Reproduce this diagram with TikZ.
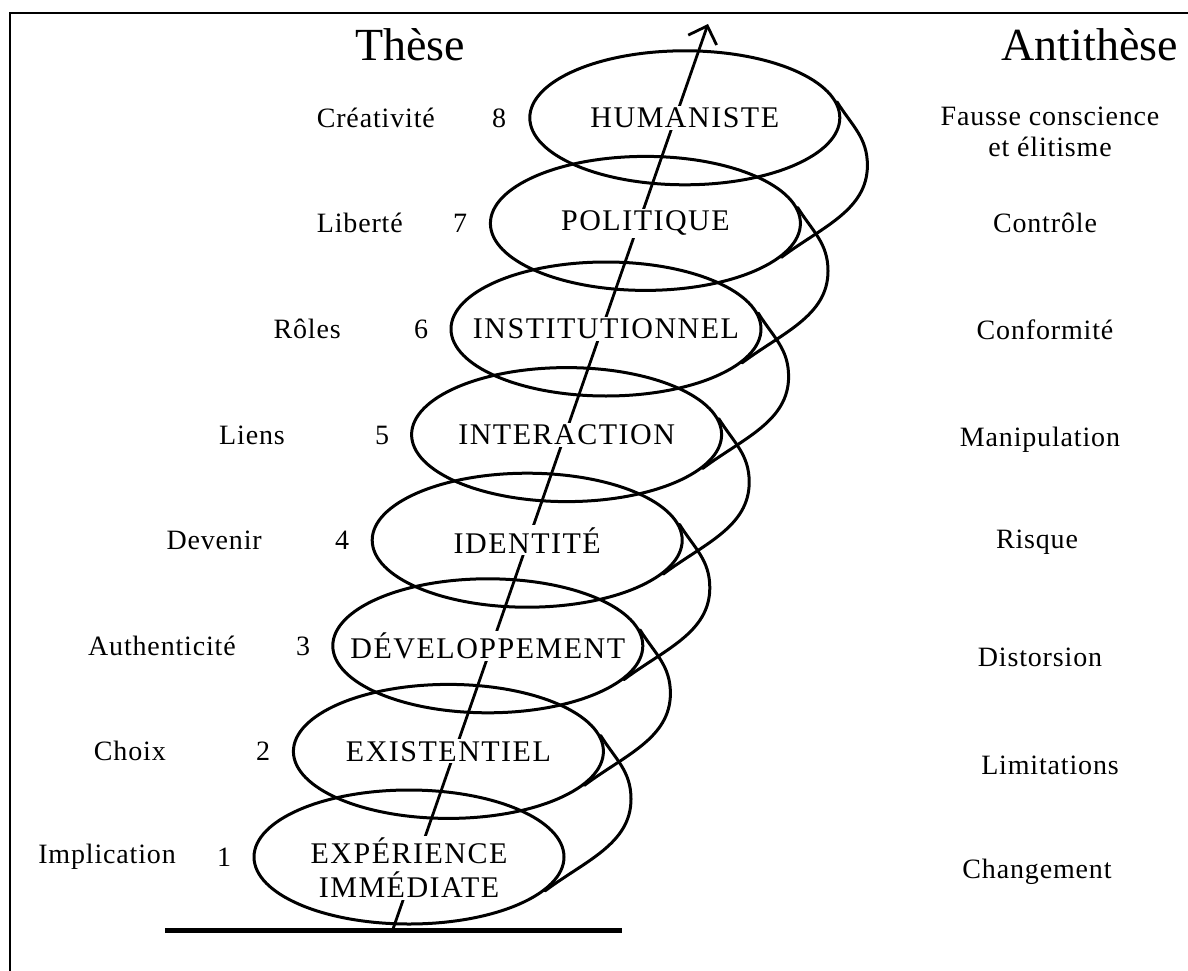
\documentclass[tikz,border=0pt]{standalone}
\usepackage{fontspec}
\setmainfont{Liberation Serif}
\usetikzlibrary{arrows.meta,shapes.geometric,calc}
\begin{document}
\begin{tikzpicture}[x=1pt,y=-1pt,
  ell/.style={ellipse, draw, line width=3pt, minimum width=310pt, minimum height=134pt, inner sep=0pt},
  lab/.style={fill=white, inner sep=2pt, align=center, font=\fontsize{30}{34}\selectfont\addfontfeature{LetterSpace=5}},
  side/.style={inner sep=0pt, align=center, font=\fontsize{28}{31}\selectfont\addfontfeature{LetterSpace=3}},
  ttl/.style={inner sep=0pt, font=\fontsize{46}{48}\selectfont},
  curve/.style={line width=3pt, line cap=round},
]
\useasboundingbox (0,0) rectangle (1188,971);
% frame
\coordinate (fb) at (10,971);
\coordinate (ftl) at (10,13);
\coordinate (ftr) at (1188,13);
\draw[line width=2pt] (fb) -- (ftl) -- (ftr);
% base line
\coordinate (bl) at (165,930);
\coordinate (br) at (622,930);
\draw[line width=5pt] (bl) -- (br);
% arrow
\coordinate (foot) at (393,929);
\coordinate (tip) at (708,24);
\draw[line width=2.8pt, -{Straight Barb[length=15pt,width=30pt,line width=2.8pt]}] (foot) -- (tip);
% labels
\foreach \k/\x/\y/\t in {1/409/868/{EXPÉRIENCE\\IMMÉDIATE},
  2/448.4/751.4/EXISTENTIEL, 3/487.8/645.8/DÉVELOPPEMENT, 4/527.2/540.2/IDENTITÉ,
  5/566.6/434.6/INTERACTION, 6/606/329/INSTITUTIONNEL, 7/645.4/223.4/POLITIQUE,
  8/684.8/117.8/HUMANISTE}{
  \node[lab] (l\k) at (\x,\y) {\t};
}
% ellipses
\foreach \k/\x/\y in {1/409/857, 2/448.4/751.4, 3/487.8/645.8, 4/527.2/540.2,
  5/566.6/434.6, 6/606/329, 7/645.4/223.4, 8/684.8/117.8}{
  \node[ell] (e\k) at (\x,\y) {};
}
% tails: from lower right of one ellipse, round the back, to upper right of the next
\foreach \k [evaluate=\k as \n using int(\k+1)] in {1,...,7}{
  \coordinate (m\k) at ($(e\k.center)+(222,-58)$);
  \draw[curve] (e\k.-14) .. controls +(40,-30) and +(0,45) .. (m\k)
     .. controls +(0,-28) and +(15,24) .. (e\n.6.6);
}
% numbers
\foreach \k/\x/\y in {1/224/857, 2/263/751, 3/303/646, 4/342/540, 5/382/435, 6/421/329, 7/460/223, 8/499/118}{
  \node[side] (n\k) at (\x,\y) {\k};
}
% left words
\node[side, anchor=east] (t1) at (176,857) {Implication};
\node[side, anchor=east] (t2) at (166,751) {Choix};
\node[side, anchor=east] (t3) at (236,646) {Authenticité};
\node[side, anchor=east] (t4) at (262,540) {Devenir};
\node[side, anchor=east] (t5) at (285,435) {Liens};
\node[side, anchor=east] (t6) at (341,329) {Rôles};
\node[side, anchor=east] (t7) at (403,223) {Liberté};
\node[side, anchor=east] (t8) at (435,118) {Créativité};
% right words
\node[side] (a8) at (1050,132) {Fausse conscience\\et élitisme};
\node[side] (a7) at (1045,223) {Contrôle};
\node[side] (a6) at (1045,330) {Conformité};
\node[side] (a5) at (1040,440) {Manipulation};
\node[side] (a4) at (1037,542) {Risque};
\node[side] (a3) at (1040,657) {Distorsion};
\node[side] (a2) at (1050,765) {Limitations};
\node[side] (a1) at (1037,872) {Changement};
% titles
\node[ttl] (these) at (410,45) {Thèse};
\node[ttl, anchor=east] (anti) at (1178,45) {Antithèse};
\end{tikzpicture}
\end{document}
